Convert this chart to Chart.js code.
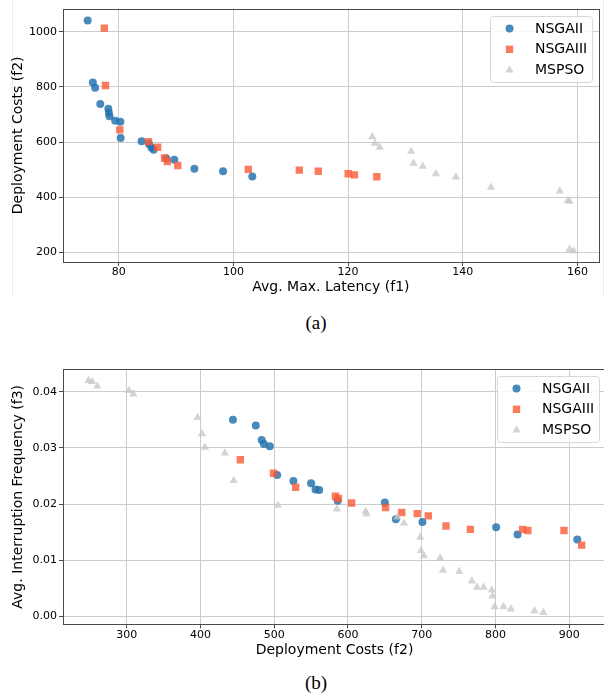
<!DOCTYPE html>
<html><head><meta charset="utf-8">
<script src="https://cdn.jsdelivr.net/npm/chart.js@4.4.1/dist/chart.umd.min.js"></script>
<style>
html,body{margin:0;padding:0;background:#fff;width:604px;height:696px;overflow:hidden;position:relative;}
#ca{position:absolute;left:0;top:0;width:604px;height:300px;}
#cb{position:absolute;left:0;top:360px;width:612px;height:310px;}
#fa{position:absolute;left:12px;top:0;width:590px;height:297px;border-left:1px solid #ececec;border-right:1px solid #ececec;}
.cap{position:absolute;width:60px;text-align:center;font-family:"Liberation Serif","Times New Roman",serif;font-size:19px;line-height:22px;color:#000;}
</style></head><body>
<div id="fa"></div>
<canvas id="ca" width="604" height="300"></canvas>
<canvas id="cb" width="612" height="310"></canvas>
<div class="cap" style="left:286px;top:312px">(a)</div>
<div class="cap" style="left:286px;top:672px">(b)</div>
<script>
// ---------- Chart (a): Avg. Max. Latency (f1) vs Deployment Costs (f2)
const A_NSGAII_f1 = [74.6,75.5,75.9,76.8,78.2,78.3,78.4,79.4,80.3,80.35,84.0,85.3,85.7,86.1,88.3,89.7,93.2,98.2,103.3];
const A_NSGAII_f2 = [1041,816,797,738,721,706,694,677,674,615,603,593,580,572,540,536,503,494,475];
const A_NSGAIII_f1 = [77.5,77.7,80.2,85.2,86.8,88.0,88.5,90.3,102.6,111.5,114.8,120.0,121.1,125.0];
const A_NSGAIII_f2 = [1013,805,644,601,581,542,529,515,501,498,494,485,481,474];
const A_MSPSO_f1 = [124.2,124.7,125.5,131.0,131.4,133.0,135.3,138.8,144.9,156.9,158.3,158.6,158.6,159.3];
const A_MSPSO_f2 = [619,595,581,566,523,512,485,473,436,422,388,385,211,205];
const A_xTicks = [80,100,120,140,160];
const A_yTicks = [200,400,600,800,1000];

// ---------- Chart (b): Deployment Costs (f2) vs Avg. Interruption Frequency (f3)
const B_NSGAII_f2 = [444,475,483,486,494,504,526,550,556,561,586,650,665,701,801,830,911];
const B_NSGAII_f3 = [0.0350,0.0340,0.0314,0.0307,0.0303,0.0252,0.0241,0.0237,0.0226,0.0225,0.0206,0.0203,0.0173,0.0168,0.0159,0.0146,0.0137];
const B_NSGAIII_f2 = [454,499,529,583,587,605,651,673,694,709,733,766,837,844,893,917];
const B_NSGAIII_f3 = [0.0279,0.0255,0.0230,0.0214,0.0210,0.0202,0.0194,0.0185,0.0183,0.0179,0.0161,0.0155,0.0155,0.0153,0.0153,0.0127];
const B_MSPSO_f2 = [248,253,260,303,309,396,402,406,433,445,505,585,624,625,667,676,698,699,703,725,729,751,768,775,784,795,796,799,811,821,853,865];
const B_MSPSO_f3 = [0.0420,0.0418,0.0410,0.0402,0.0396,0.0354,0.0325,0.0301,0.0291,0.0242,0.0198,0.0191,0.0187,0.0182,0.0177,0.0166,0.0141,0.0117,0.0108,0.0104,0.0082,0.0080,0.0063,0.0052,0.0052,0.0047,0.0036,0.0017,0.0017,0.0013,0.0010,0.0007];
const B_xTicks = [300,400,500,600,700,800,900];
const B_yTicks = [0,0.01,0.02,0.03,0.04];

const seriesNames = ['NSGAII','NSGAIII','MSPSO'];

const FONT = "'DejaVu Sans', sans-serif";
const BLUE = 'rgba(32,112,173,0.82)';
const ORANGE = 'rgba(250,90,55,0.8)';
const GRAY = 'rgba(200,200,200,0.78)';

const frame = {
  id: 'frame',
  afterDraw(chart) {
    const {ctx, chartArea: a} = chart;
    ctx.save();
    ctx.strokeStyle = '#4a4a4a';
    ctx.lineWidth = 1;
    ctx.strokeRect(Math.round(a.left) + 0.5, Math.round(a.top) + 0.5,
                   Math.round(a.right - a.left), Math.round(a.bottom - a.top));
    ctx.restore();
  }
};

const boxLegend = {
  id: 'boxLegend',
  afterDraw(chart) {
    const {ctx, chartArea: a} = chart;
    const w = 102, h = 66;
    const x = Math.round(a.right - 7 - w), y = Math.round(a.top + 7);
    ctx.save();
    ctx.beginPath();
    ctx.roundRect(x + 0.5, y + 0.5, w, h, 3);
    ctx.fillStyle = 'rgba(255,255,255,0.85)';
    ctx.fill();
    ctx.strokeStyle = '#d8d8d8';
    ctx.lineWidth = 1;
    ctx.stroke();
    const sorted = chart.data.datasets.slice().sort((p, q) => p.legendIndex - q.legendIndex);
    sorted.forEach((ds, i) => {
      const cy = y + 12.5 + i * 20.8;
      ctx.fillStyle = ds.backgroundColor;
      Chart.helpers.drawPoint(ctx, {pointStyle: ds.pointStyle, radius: ds.pointRadius, borderWidth: 0, rotation: 0}, x + 19.5, cy);
      ctx.fillStyle = '#000';
      ctx.font = '14px ' + FONT;
      ctx.textBaseline = 'middle';
      ctx.textAlign = 'left';
      ctx.fillText(ds.label, x + 45, cy + 0.5);
    });
    ctx.restore();
  }
};

function pts(xs, ys) { return xs.map((v, i) => ({x: v, y: ys[i]})); }

function makeDatasets(d1, d2, d3) {
  return [
    {label: seriesNames[0], legendIndex: 0, data: d1, pointStyle: 'circle', pointRadius: 4, pointHoverRadius: 4,
     backgroundColor: BLUE, borderWidth: 0, order: 2},
    {label: seriesNames[1], legendIndex: 1, data: d2, pointStyle: 'rect', pointRadius: 5.2, pointHoverRadius: 5.2,
     backgroundColor: ORANGE, borderWidth: 0, order: 1},
    {label: seriesNames[2], legendIndex: 2, data: d3, pointStyle: 'triangle', pointRadius: 4.8, pointHoverRadius: 4.8,
     backgroundColor: GRAY, borderWidth: 0, order: 0}
  ];
}

function axis(min, max, ticks, title, fmt, fixSize, isX, titlePad) {
  return {
    type: 'linear', min: min, max: max,
    afterBuildTicks: s => { s.ticks = ticks.map(v => ({value: v})); },
    afterFit: s => { if (isX) s.height = fixSize; else s.width = fixSize; },
    grid: {color: '#cccccc', lineWidth: 1, tickColor: '#4a4a4a', tickLength: 4, drawTicks: true},
    border: {display: false},
    ticks: {color: '#000', font: {family: FONT, size: 11}, padding: isX ? 0 : 2,
            maxRotation: 0, autoSkip: false, callback: fmt},
    title: {display: true, text: title, color: '#000', font: {family: FONT, size: 14},
            padding: isX ? {top: 0, bottom: titlePad} : {top: titlePad, bottom: 0}}
  };
}

function baseOptions(padding, scales) {
  return {
    responsive: false, devicePixelRatio: 1, animation: false,
    layout: {padding: padding},
    plugins: {legend: {display: false}, tooltip: {enabled: false}},
    scales: scales
  };
}

new Chart(document.getElementById('ca'), {
  type: 'scatter',
  data: {datasets: makeDatasets(pts(A_NSGAII_f1, A_NSGAII_f2), pts(A_NSGAIII_f1, A_NSGAIII_f2), pts(A_MSPSO_f1, A_MSPSO_f2))},
  options: baseOptions({left: 0, right: 2, top: 7, bottom: 0}, {
    x: axis(70.3, 163.7, A_xTicks, 'Avg. Max. Latency (f1)', v => String(v), 38, true, 4),
    y: axis(165, 1084, A_yTicks, 'Deployment Costs (f2)', v => String(v), 63, false, 9.6)
  }),
  plugins: [frame, boxLegend]
});

new Chart(document.getElementById('cb'), {
  type: 'scatter',
  data: {datasets: makeDatasets(pts(B_NSGAII_f2, B_NSGAII_f3), pts(B_NSGAIII_f2, B_NSGAIII_f3), pts(B_MSPSO_f2, B_MSPSO_f3))},
  options: baseOptions({left: 0, right: 6, top: 9.3, bottom: 0}, {
    x: axis(213.5, 950, B_xTicks, 'Deployment Costs (f2)', v => String(v), 45.7, true, 11.6),
    y: axis(-0.0014, 0.044, B_yTicks, 'Avg. Interruption Frequency (f3)', v => Number(v).toFixed(2), 63, false, 9.6)
  }),
  plugins: [frame, boxLegend]
});
</script>
</body></html>
